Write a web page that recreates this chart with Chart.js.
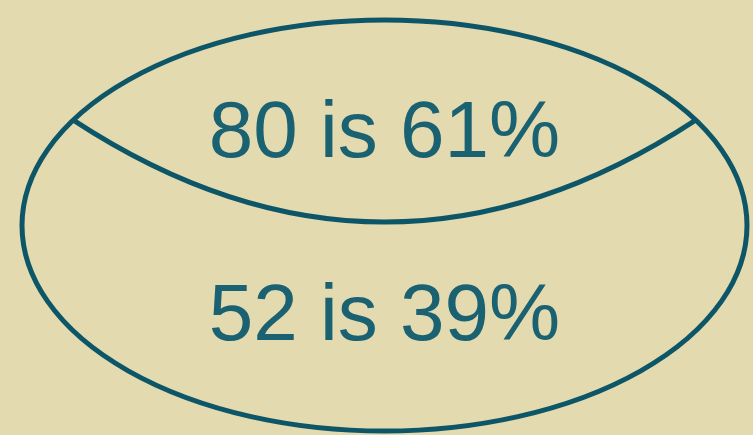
<!DOCTYPE html>
<html lang="en">

<head>
    <meta charset="UTF-8">
    <script src="https://cdn.jsdelivr.net/npm/chart.js@4.4.1/dist/chart.umd.min.js"></script>
    <style>
        html, body { margin: 0; padding: 0; background: #e3dab0; overflow: hidden; }
    </style>
</head>

<body>
    <canvas id="split-chart" width="753" height="435"></canvas>
</body>
<script>
    // values shown in the two parts of the oval
    var counts = [80, 52];
    var percents = [61, 39];
    // vertical place of each label inside the oval (-1 bottom .. 1 top)
    var labelLevels = [0.333, -0.557];
    // where the dividing curve meets the oval and how low it dips
    var splitEdge = 0.513;
    var splitDip = 0.017;

    var ink = "#0d5667";
    var textInk = "#1a6172";
    var paper = "#e3dab0";

    var labels = counts.map(function (c, i) { return c + " is " + percents[i] + "%"; });

    var ovalPlugin = {
        id: "oval",
        beforeDraw: function (chart) {
            var ctx = chart.ctx;
            ctx.save();
            ctx.fillStyle = paper;
            ctx.fillRect(0, 0, chart.width, chart.height);
            ctx.restore();
        },
        afterDatasetsDraw: function (chart) {
            var ctx = chart.ctx;
            var xs = chart.scales.x, ys = chart.scales.y;
            var cx = xs.getPixelForValue(0), cy = ys.getPixelForValue(0);
            var rx = xs.getPixelForValue(1) - cx, ry = cy - ys.getPixelForValue(1);

            ctx.save();
            ctx.strokeStyle = ink;
            ctx.lineWidth = 5;
            ctx.beginPath();
            ctx.ellipse(cx, cy, rx, ry, 0, 0, Math.PI * 2);
            ctx.stroke();

            // dividing curve between the two parts
            var ey = ys.getPixelForValue(splitEdge);
            var ex = rx * Math.sqrt(1 - splitEdge * splitEdge);
            var dipY = ys.getPixelForValue(splitDip);
            ctx.beginPath();
            ctx.moveTo(cx - ex, ey);
            ctx.quadraticCurveTo(cx, 2 * dipY - ey, cx + ex, ey);
            ctx.stroke();

            // labels
            var meta = chart.getDatasetMeta(0);
            ctx.fillStyle = textInk;
            ctx.font = "80px 'Liberation Sans', Arial, sans-serif";
            ctx.textAlign = "center";
            ctx.textBaseline = "alphabetic";
            meta.data.forEach(function (pt, i) {
                ctx.fillText(labels[i], pt.x, pt.y);
            });
            ctx.restore();
        }
    };

    var ctx = document.getElementById("split-chart").getContext("2d");
    var splitChart = new Chart(ctx, {
        type: "scatter",
        data: {
            datasets: [{
                label: "parts",
                data: labelLevels.map(function (v) { return { x: 0, y: v }; }),
                pointRadius: 0
            }]
        },
        options: {
            responsive: false,
            animation: false,
            layout: { padding: { left: 22, right: 6, top: 20, bottom: 4 } },
            plugins: { legend: { display: false }, tooltip: { enabled: false } },
            scales: {
                x: { type: "linear", min: -1, max: 1, display: false },
                y: { type: "linear", min: -1, max: 1, display: false }
            }
        },
        plugins: [ovalPlugin]
    });
</script>

</html>
